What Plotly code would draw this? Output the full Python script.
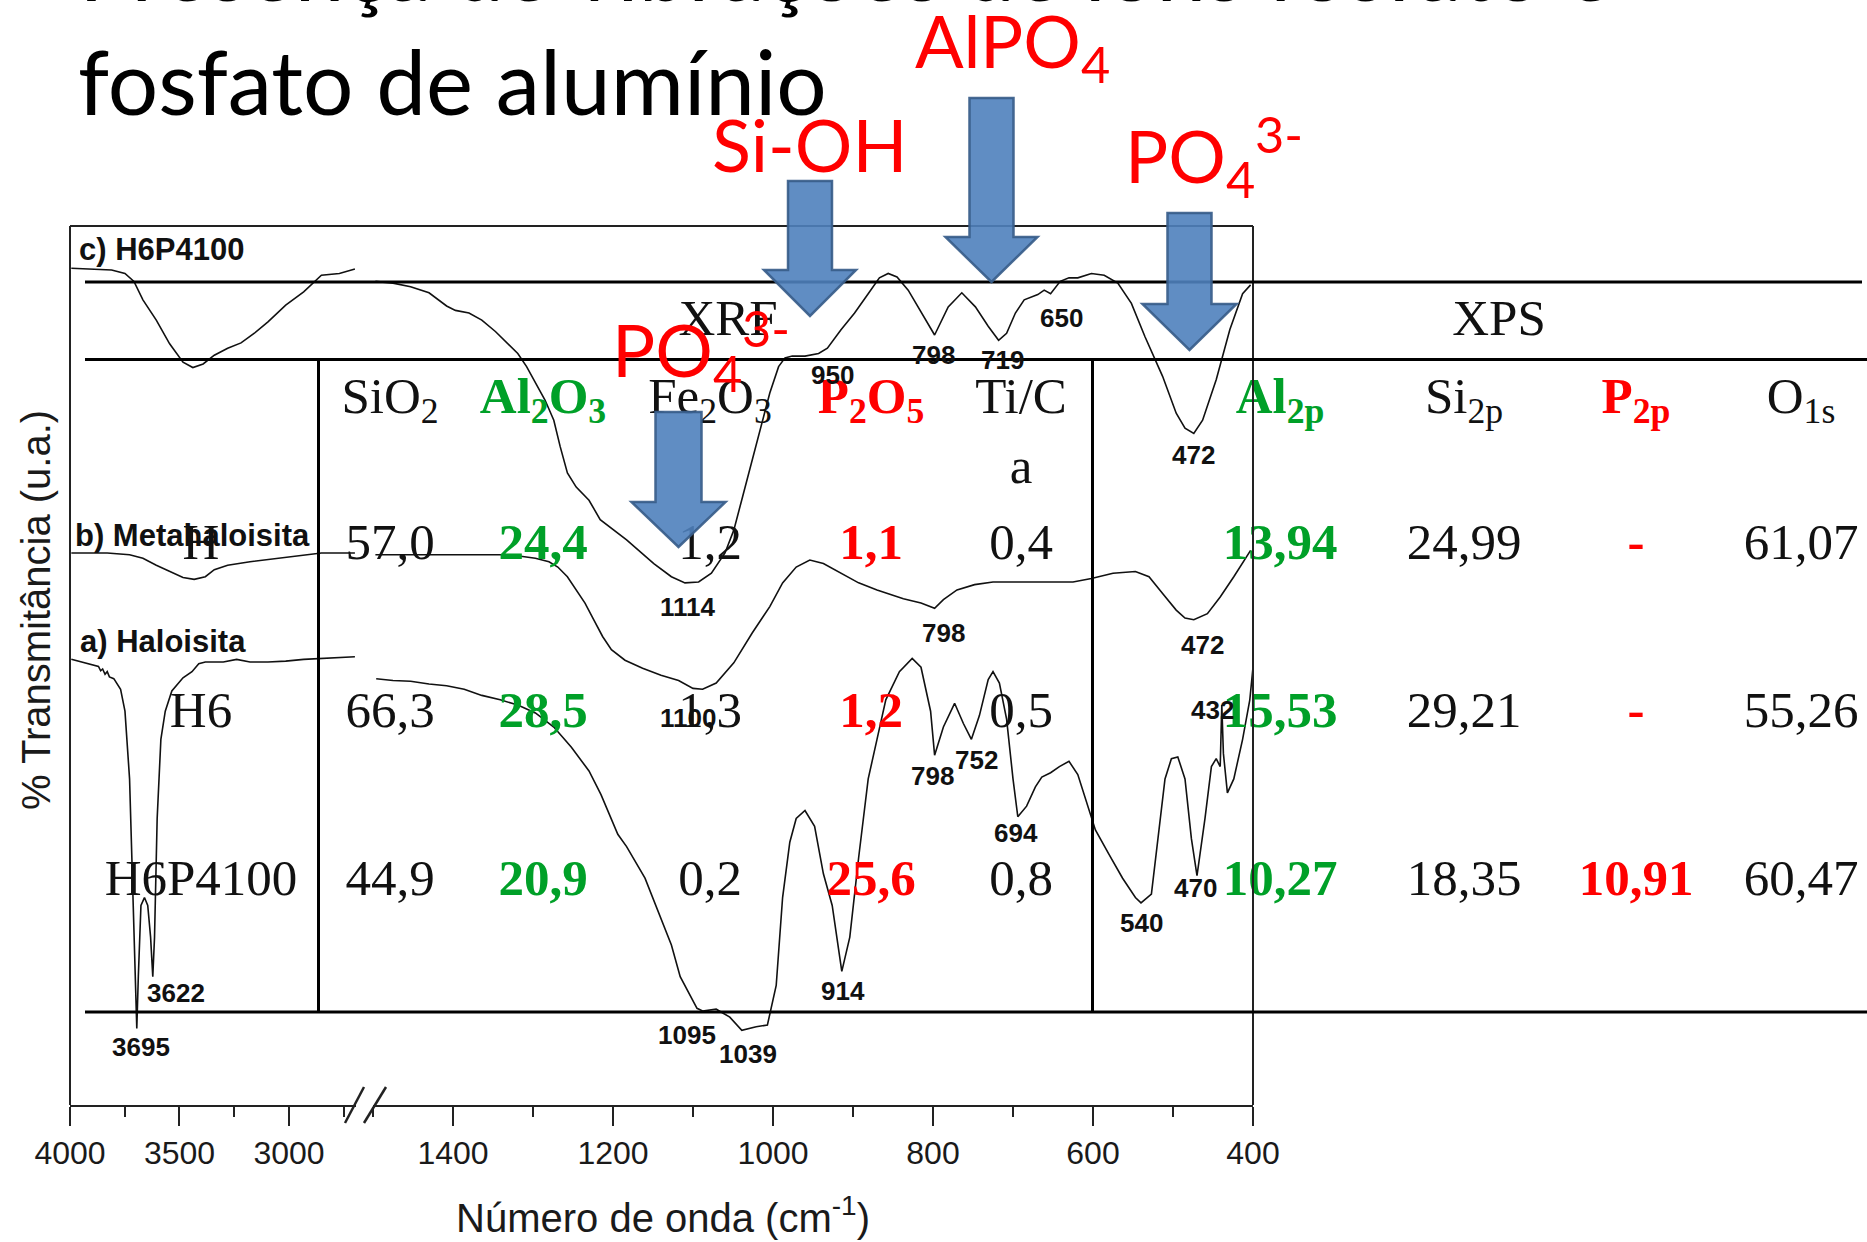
import plotly.graph_objects as go

W, H = 1867, 1242

# ---------------- FTIR spectra (cm-1 vs. stacked transmittance, a.u.) ----------------
# a) Haloisita
a_hi_wn = [3994, 3912, 3870, 3860, 3851, 3840, 3830, 3820, 3800, 3769, 3749, 3728, 3718, 3708, 3699,
           3695, 3688, 3676, 3660, 3645, 3632, 3622, 3614, 3602, 3585, 3565, 3535, 3484, 3443, 3412,
           3382, 3300, 3239, 3178, 3096, 3015, 2933, 2852, 2770, 2699]
a_hi_t = [50.7, 50.2, 49.9, 49.4, 49.6, 49.0, 49.3, 48.7, 48.5, 47.3, 44.8, 37.1, 28.1, 19.1, 10.0,
          8.7, 14.6, 22.7, 23.6, 22.7, 19.1, 14.6, 19.1, 32.6, 41.6, 44.8, 47.1, 48.6, 49.3, 50.2,
          50.4, 50.4, 50.7, 50.4, 50.4, 50.5, 50.7, 50.8, 50.9, 51.0]
a_lo_wn = [1496, 1475, 1453, 1430, 1408, 1386, 1364, 1341, 1319, 1297, 1274, 1252, 1230, 1215, 1194,
           1183, 1160, 1144, 1127, 1116, 1105, 1095, 1088, 1071, 1054, 1039, 1021, 1007, 996, 988,
           979, 971, 960, 948, 937, 926, 914, 904, 893, 881, 870, 859, 842, 826, 815,
           803, 798, 787, 773, 762, 752, 742, 731, 725, 717, 708, 700, 694, 683, 672,
           664, 653, 642, 630, 619, 608, 597, 580, 563, 547, 540, 527, 519, 510, 502,
           494, 485, 477, 470, 460, 452, 446, 441, 439, 437, 432, 424, 413, 404, 400]
a_lo_t = [48.5, 48.3, 48.2, 47.9, 47.7, 47.3, 46.6, 46.1, 45.5, 44.6, 43.0, 40.7, 38.0, 35.3, 30.8,
          29.4, 25.8, 22.2, 18.2, 14.6, 12.7, 11.0, 10.7, 10.9, 10.0, 8.5, 8.9, 9.1, 13.6, 23.6,
          29.9, 32.6, 33.5, 31.7, 26.3, 22.7, 15.2, 19.1, 28.1, 37.1, 41.6, 46.1, 49.3, 50.8, 49.8,
          44.8, 39.8, 43.0, 45.7, 43.4, 41.6, 44.3, 48.4, 49.3, 48.0, 43.9, 37.1, 32.8, 34.0, 36.2,
          37.3, 37.8, 38.5, 39.1, 37.6, 34.4, 31.3, 28.5, 25.8, 23.6, 23.0, 24.0, 30.3, 37.1, 39.4,
          39.6, 37.1, 30.3, 26.1, 32.6, 38.5, 39.4, 38.5, 45.5, 40.0, 35.5, 37.1, 41.6, 46.1, 49.8]

# b) Metahaloisita
b_hi_wn = [3994, 3912, 3830, 3728, 3667, 3606, 3545, 3484, 3433, 3382, 3341, 3280, 3178, 3056, 2933,
           2852, 2770, 2699]
b_hi_t = [62.8, 62.8, 62.8, 62.6, 62.2, 61.4, 60.7, 60.0, 59.8, 60.1, 60.9, 61.4, 61.8, 62.2, 62.6,
          62.8, 62.8, 62.8]
b_lo_wn = [1497, 1464, 1430, 1397, 1364, 1336, 1313, 1297, 1280, 1269, 1257, 1246, 1235, 1224, 1213,
           1202, 1185, 1163, 1140, 1118, 1100, 1088, 1071, 1049, 1026, 1004, 988, 971, 954, 937,
           915, 893, 870, 837, 815, 798, 787, 770, 748, 725, 692, 658, 625, 602, 575,
           547, 530, 513, 496, 485, 474, 457, 441, 424, 413, 403]
b_lo_t = [62.6, 62.6, 62.6, 62.6, 62.6, 62.6, 62.4, 62.2, 61.8, 61.2, 60.1, 58.6, 57.1, 55.2, 53.3,
          51.8, 50.6, 49.7, 48.9, 48.3, 47.4, 47.3, 48.0, 50.3, 53.7, 56.7, 59.4, 61.2, 62.0, 61.6,
          60.5, 59.4, 58.6, 57.6, 57.1, 56.5, 57.5, 58.6, 59.2, 59.5, 59.5, 59.5, 59.5, 59.9, 60.5,
          60.7, 60.1, 58.2, 56.3, 55.4, 55.2, 55.9, 57.8, 60.1, 61.6, 63.1]

# c) H6P4100
c_hi_wn = [3994, 3810, 3749, 3708, 3667, 3606, 3545, 3484, 3439, 3392, 3341, 3280, 3219, 3158, 3096,
           3015, 2933, 2852, 2770, 2699]
c_hi_t = [95.2, 95.0, 94.6, 93.7, 91.6, 89.3, 86.6, 84.5, 83.9, 84.3, 85.3, 86.1, 86.7, 87.8, 89.1,
          91.0, 92.5, 94.4, 94.6, 95.1]
c_lo_wn = [1497, 1475, 1453, 1430, 1408, 1397, 1380, 1364, 1347, 1330, 1319, 1308, 1297, 1285, 1274,
           1266, 1257, 1246, 1230, 1216, 1183, 1149, 1127, 1110, 1093, 1077, 1060, 1049, 1038, 1026,
           1015, 1004, 993, 985, 976, 960, 943, 932, 915, 898, 881, 867, 856, 845, 831,
           814, 798, 781, 764, 747, 731, 718, 708, 697, 686, 669, 661, 653, 641, 630,
           619, 602, 586, 569, 552, 535, 513, 496, 485, 474, 463, 446, 429, 413, 403]
c_lo_t = [93.7, 93.5, 93.1, 92.4, 90.9, 90.4, 90.1, 89.3, 88.0, 86.5, 85.5, 84.0, 82.1, 80.2, 77.9,
          74.9, 71.9, 70.3, 68.8, 66.6, 64.3, 61.6, 60.1, 59.4, 59.5, 60.5, 62.8, 65.4, 69.2, 73.4,
          77.2, 81.0, 84.0, 85.0, 85.2, 85.2, 85.5, 86.1, 88.2, 90.1, 92.3, 94.1, 94.6, 94.2, 92.7,
          90.1, 87.6, 90.8, 92.4, 90.8, 88.6, 87.0, 87.8, 90.1, 91.6, 92.2, 92.7, 92.3, 93.7, 94.1,
          94.1, 94.6, 94.4, 93.5, 91.2, 87.4, 82.9, 78.7, 77.0, 76.4, 77.9, 82.5, 88.2, 92.3, 93.3]

# band assignments written next to the curves: (text, axis, wavenumber, transmittance)
peak_labels = [
    ("950", "x2", 926, 83.0), ("798", "x2", 799, 85.3), ("719", "x2", 713, 84.8),
    ("650", "x2", 639, 89.5), ("472", "x2", 475, 73.9), ("1114", "x2", 1106, 56.7),
    ("798", "x2", 787.5, 53.7), ("472", "x2", 463, 52.3), ("1100", "x2", 1106, 44.0),
    ("3622", "x", 3516, 12.7), ("3695", "x", 3678, 6.6), ("1095", "x2", 1107.5, 8.0),
    ("1039", "x2", 1031, 5.8), ("914", "x2", 912.5, 13.0), ("798", "x2", 801, 37.4),
    ("752", "x2", 746, 39.2), ("694", "x2", 696, 30.9), ("540", "x2", 540, 20.7),
    ("470", "x2", 472, 24.7), ("432", "x2", 451, 44.9),
]
panel_names = ["c) H6P4100", "b) Metahaloisita", "a) Haloisita"]

hi_ticks = [4000, 3500, 3000]
hi_minor = [3750, 3250, 2750]
lo_ticks = [1400, 1200, 1000, 800, 600, 400]
lo_minor = [1500, 1300, 1100, 900, 700, 500]

# ---------------- XRF / XPS composition table ----------------
samples = ["H", "H6", "H6P4100"]
xrf_cols = ["SiO<sub>2</sub>", "<b>Al<sub>2</sub>O<sub>3</sub></b>", "Fe<sub>2</sub>O<sub>3</sub>",
            "<b>P<sub>2</sub>O<sub>5</sub></b>", "Ti/C"]
xps_cols = ["<b>Al<sub>2p</sub></b>", "Si<sub>2p</sub>", "<b>P<sub>2p</sub></b>", "O<sub>1s</sub>"]
sio2 = ["57,0", "66,3", "44,9"]
al2o3 = ["24,4", "28,5", "20,9"]
fe2o3 = ["1,2", "1,3", "0,2"]
p2o5 = ["1,1", "1,2", "25,6"]
tica = ["0,4", "0,5", "0,8"]
al2p = ["13,94", "15,53", "10,27"]
si2p = ["24,99", "29,21", "18,35"]
p2p = ["-", "-", "10,91"]
o1s = ["61,07", "55,26", "60,47"]

# ---------------- layout helpers ----------------
def px(x):
    return x / W


def py(y):
    return 1 - y / H


BLACK = "#111111"
GREEN = "#00A028"
RED = "#FF0000"
SANS = "Liberation Sans, Arial, sans-serif"
SERIF = "Liberation Serif, Times New Roman, serif"
SLIDE = "Lato, Open Sans, sans-serif"

fig = go.Figure()

line_style = dict(color=BLACK, width=1.6)
for wn, t in [(a_hi_wn, a_hi_t), (b_hi_wn, b_hi_t), (c_hi_wn, c_hi_t)]:
    fig.add_trace(go.Scatter(x=wn, y=t, mode="lines", line=line_style, xaxis="x", yaxis="y",
                             showlegend=False, hoverinfo="skip"))
for wn, t in [(a_lo_wn, a_lo_t), (b_lo_wn, b_lo_t), (c_lo_wn, c_lo_t)]:
    fig.add_trace(go.Scatter(x=wn, y=t, mode="lines", line=line_style, xaxis="x2", yaxis="y",
                             showlegend=False, hoverinfo="skip"))

# table text lives on a full-page overlay axis so the arrows can sit above it
col_x = [201, 390, 543, 710, 871, 1021, 1280, 1464, 1636, 1801]
row_y = [546, 714, 882]
cells_x, cells_y, cells_t, cells_c = [], [], [], []


def cell(x, y, text, color=BLACK, bold=False):
    cells_x.append(px(x))
    cells_y.append(py(y))
    cells_t.append(f"<b>{text}</b>" if bold else text)
    cells_c.append(color)


cell(728, 322, "XRF")
cell(1499, 322, "XPS")
header_colors = [BLACK, GREEN, BLACK, RED, BLACK, GREEN, BLACK, RED, BLACK]
for i, (name, colr) in enumerate(zip(xrf_cols + xps_cols, header_colors)):
    cell(col_x[i + 1], 400, name, colr)
cell(col_x[5], 470, "a")
columns = [(sio2, BLACK, False), (al2o3, GREEN, True), (fe2o3, BLACK, False), (p2o5, RED, True),
           (tica, BLACK, False), (al2p, GREEN, True), (si2p, BLACK, False), (p2p, RED, True),
           (o1s, BLACK, False)]
for r, s in enumerate(samples):
    cell(col_x[0], row_y[r], s)
    for c, (vals, colr, bold) in enumerate(columns):
        cell(col_x[c + 1], row_y[r], vals[r], colr, bold)

fig.add_trace(go.Scatter(x=cells_x, y=cells_y, text=cells_t, mode="text", textposition="middle center",
                         textfont=dict(family=SERIF, size=51, color=cells_c), xaxis="x3", yaxis="y3",
                         showlegend=False, hoverinfo="skip", cliponaxis=False))

# ---------------- axes ----------------
tick_common = dict(showline=True, linecolor="#222222", linewidth=2, ticks="outside", ticklen=19,
                   tickwidth=2, tickcolor="#222222", showgrid=False, zeroline=False,
                   tickfont=dict(family=SANS, size=32, color="#1a1a1a"), anchor="y")
fig.update_layout(
    width=W, height=H, margin=dict(l=0, r=0, t=0, b=0, autoexpand=False),
    paper_bgcolor="white", plot_bgcolor="rgba(0,0,0,0)",
    xaxis=dict(domain=[px(70), px(356)], range=[4000, 2694], tickmode="array", tickvals=hi_ticks,
               minor=dict(tickvals=hi_minor, ticks="outside", ticklen=10, tickwidth=2, tickcolor="#222222"),
               **tick_common),
    xaxis2=dict(domain=[px(373), px(1253)], range=[1500, 400], tickmode="array", tickvals=lo_ticks,
                minor=dict(tickvals=lo_minor, ticks="outside", ticklen=10, tickwidth=2, tickcolor="#222222"),
                **tick_common),
    yaxis=dict(domain=[py(1105), py(226)], range=[0, 100], visible=False, anchor="x"),
    xaxis3=dict(domain=[0, 1], range=[0, 1], visible=False, anchor="y3"),
    yaxis3=dict(domain=[0, 1], range=[0, 1], visible=False, anchor="x3"),
)

shapes = []


def seg(x0, y0, x1, y1, width=2, color="#222222"):
    shapes.append(dict(type="line", xref="paper", yref="paper", x0=px(x0), y0=py(y0), x1=px(x1),
                       y1=py(y1), line=dict(color=color, width=width), layer="above"))


# plot frame and axis break marks
seg(70, 226, 1253, 226)
seg(70, 226, 70, 1105)
seg(1253, 226, 1253, 1105)
seg(345, 1123, 364, 1087, width=2.5)
seg(364, 1123, 386, 1087, width=2.5)

# composition table rules
seg(85, 282, 1862, 282, width=3, color="black")
seg(85, 359.5, 1867, 359.5, width=3, color="black")
seg(85, 1012, 1867, 1012, width=3, color="black")
seg(318.5, 359.5, 318.5, 1012, width=3, color="black")
seg(1092.5, 359.5, 1092.5, 1012, width=3, color="black")


def block_arrow(cx, hw, top, neck, hhw, tip):
    pts = [(cx - hw, top), (cx + hw, top), (cx + hw, neck), (cx + hhw, neck), (cx, tip),
           (cx - hhw, neck), (cx - hw, neck)]
    path = "M " + " L ".join(f"{px(x):.5f},{py(y):.5f}" for x, y in pts) + " Z"
    return dict(type="path", xref="paper", yref="paper", path=path, layer="above",
                fillcolor="rgba(79,129,189,0.9)", line=dict(color="rgba(56,93,138,0.92)", width=2.5))


shapes += [
    block_arrow(810, 22, 181, 270, 46, 316),
    block_arrow(991.5, 22, 98, 237, 46, 282),
    block_arrow(1189.5, 22, 213, 304, 47, 350),
    block_arrow(678.5, 23, 412, 502, 47, 547),
]
fig.update_layout(shapes=shapes)

# ---------------- annotations ----------------
ann = []
for text, ax, wn, t in peak_labels:
    ann.append(dict(text=f"<b>{text}</b>", x=wn, y=t, xref=ax, yref="y", showarrow=False,
                    font=dict(family=SANS, size=26, color=BLACK), xanchor="center", yanchor="middle"))

for name, (x, y) in zip(panel_names, [(77, 249), (73, 535), (78, 641)]):
    ann.append(dict(text=f"<b>{name}</b>", x=px(x), y=py(y), xref="paper", yref="paper", showarrow=False,
                    font=dict(family=SANS, size=31, color=BLACK), xanchor="left", yanchor="middle"))

ann.append(dict(text="Número de onda (cm<sup>-1</sup>)", x=px(663), y=py(1215), xref="paper", yref="paper",
                showarrow=False, font=dict(family=SANS, size=40, color="#1a1a1a"),
                xanchor="center", yanchor="middle"))
ann.append(dict(text="% Transmitância (u.a.)", x=px(36), y=py(610), xref="paper", yref="paper",
                showarrow=False, textangle=-90, font=dict(family=SANS, size=40, color="#1a1a1a"),
                xanchor="center", yanchor="middle"))

# slide title (first line runs off the top edge)
ann.append(dict(text="Presença de vibrações de íons fosfato e", x=px(77), y=py(-33.5), xref="paper",
                yref="paper", showarrow=False, font=dict(family=SLIDE, size=89, color="black"),
                xanchor="left", yanchor="middle"))
ann.append(dict(text="fosfato de alumínio", x=px(76), y=py(81), xref="paper", yref="paper",
                showarrow=False, font=dict(family=SLIDE, size=89, color="black"),
                xanchor="left", yanchor="middle"))

# band labels pointing at the arrows
for text, x, y in [("Si-OH", 710, 144), ("AlPO<sub>4</sub>", 913, 46),
                   ("PO<sub>4</sub><sup>3-</sup>", 1123, 156), ("PO<sub>4</sub><sup>3-</sup>", 610, 350)]:
    ann.append(dict(text=text, x=px(x), y=py(y), xref="paper", yref="paper", showarrow=False,
                    font=dict(family=SLIDE, size=72, color=RED), xanchor="left", yanchor="middle"))

fig.update_layout(annotations=ann)

fig.write_html("out.html")
